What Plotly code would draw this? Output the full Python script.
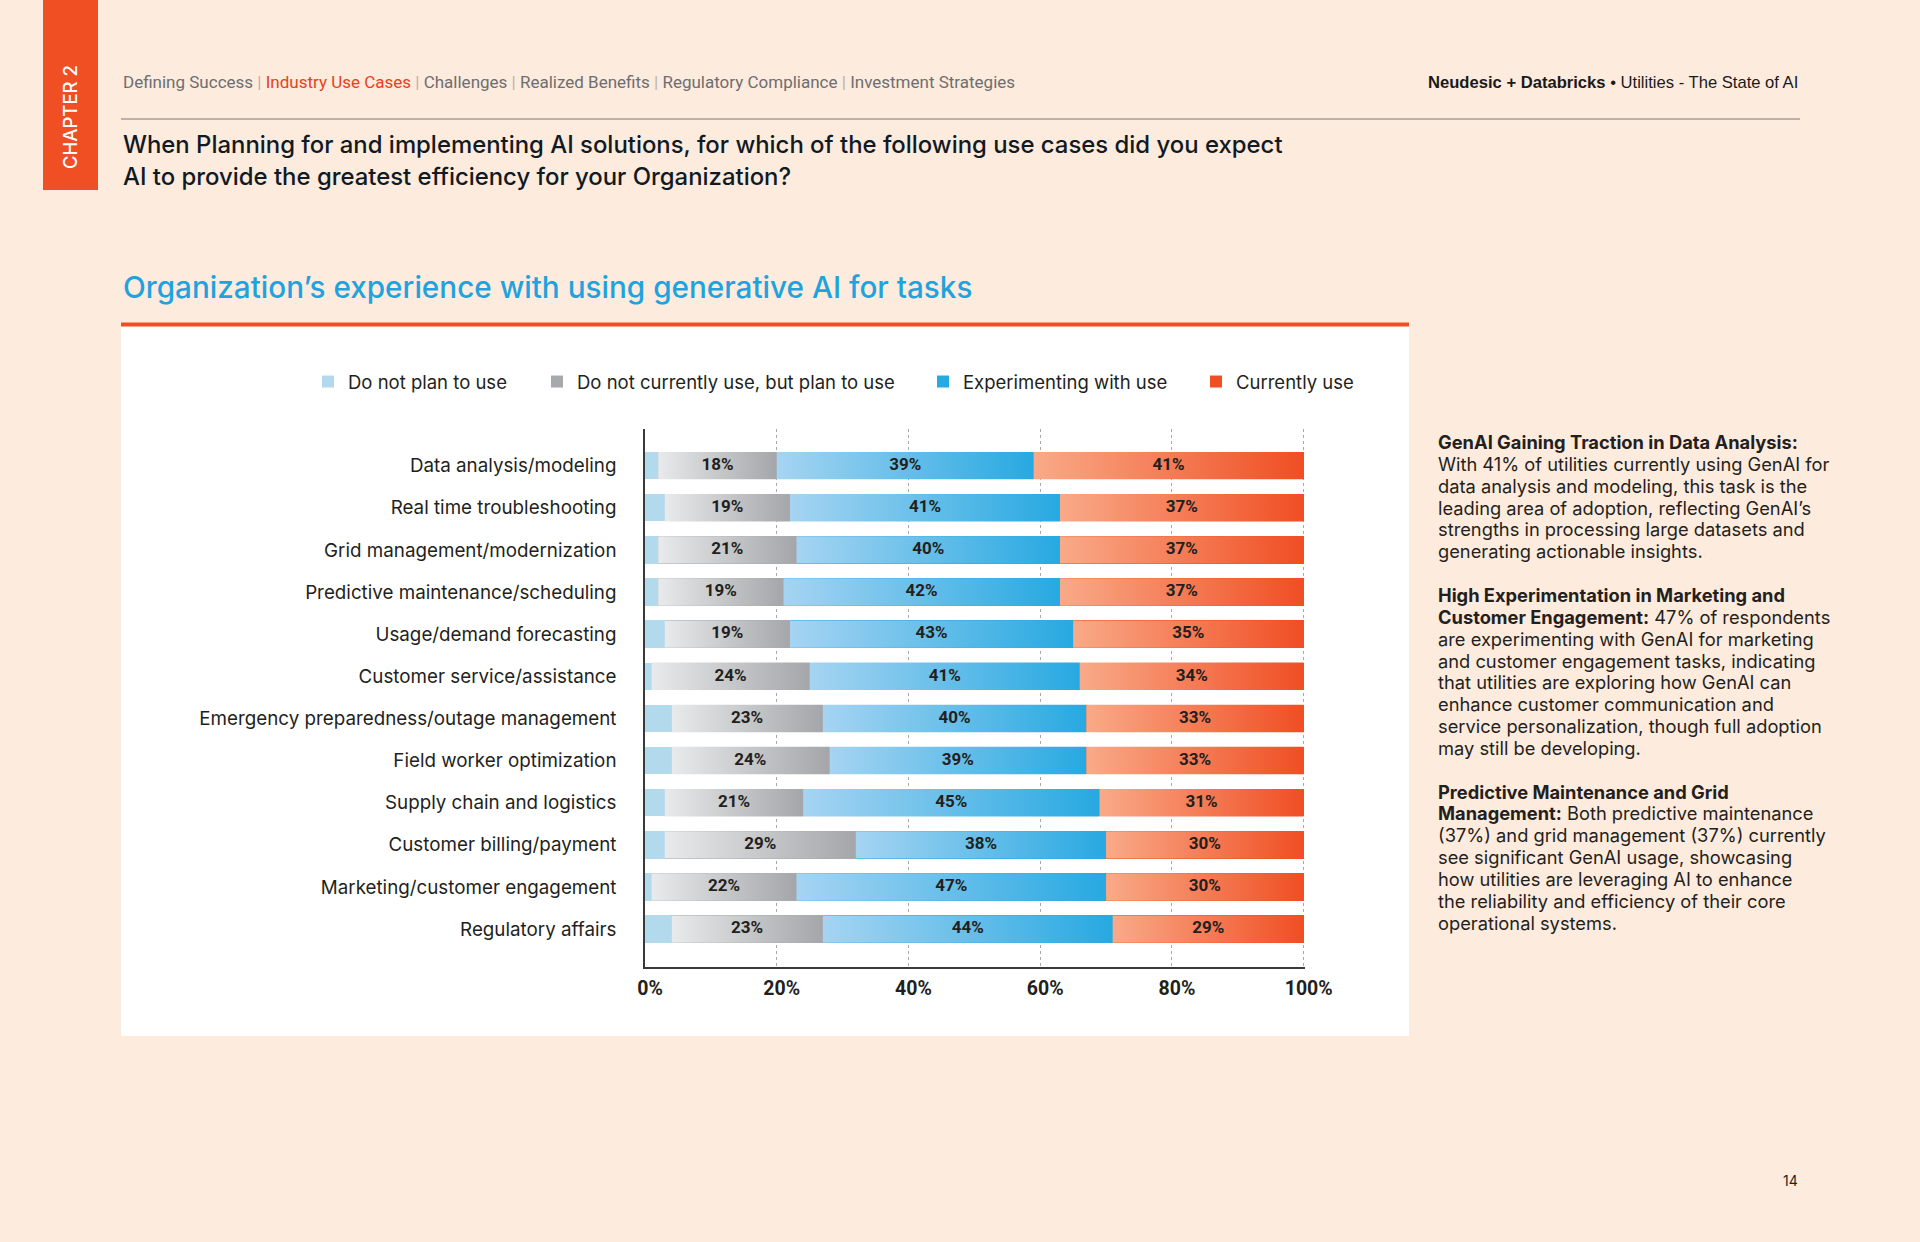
import plotly.graph_objects as go

# ---------------- data ----------------
categories = [
    "Data analysis/modeling",
    "Real time troubleshooting",
    "Grid management/modernization",
    "Predictive maintenance/scheduling",
    "Usage/demand forecasting",
    "Customer service/assistance",
    "Emergency preparedness/outage management",
    "Field worker optimization",
    "Supply chain and logistics",
    "Customer billing/payment",
    "Marketing/customer engagement",
    "Regulatory affairs",
]
do_not_plan = [2, 3, 2, 2, 3, 1, 4, 4, 3, 3, 1, 4]
plan_to_use = [18, 19, 21, 19, 19, 24, 23, 24, 21, 29, 22, 23]
experimenting = [39, 41, 40, 42, 43, 41, 40, 39, 45, 38, 47, 44]
currently_use = [41, 37, 37, 37, 35, 34, 33, 33, 31, 30, 30, 29]

series_names = ["Do not plan to use", "Do not currently use, but plan to use",
                "Experimenting with use", "Currently use"]
x_ticks = [0, 20, 40, 60, 80, 100]
x_tick_labels = ["0%", "20%", "40%", "60%", "80%", "100%"]

# ---------------- styling ----------------
BG = "#FDEBDD"
ORANGE = "#F04E23"
legend_colors = ["#B3D9EC", "#A7A9AC", "#27AAE1", "#F04E23"]
gradients = [None,
             ["#E9EAEB", "#A4A6A9"],
             ["#A6D4F2", "#27A9E1"],
             ["#F9AA88", "#F04E23"]]
TXT = "#231F20"
LABEL_FONT = "Inter, Noto Sans, sans-serif"
NARROW = "Liberation Sans Narrow, Roboto, Liberation Sans, sans-serif"
ARIAL = "Liberation Sans, Arial, sans-serif"

W, H = 1920, 1242
PL, PR, PT, PB = 645, 1305, 429, 967


def px(x):
    return (x - PL) / (PR - PL)


def py(y):
    return (PB - y) / (PB - PT)


n = len(categories)
ypos = list(range(n - 1, -1, -1))
BAR_W = 0.65
series = [do_not_plan, plan_to_use, experimenting, currently_use]

fig = go.Figure()

# stacked bars (data carriers + legend)
legend_keys = ["legend", "legend2", "legend3", "legend4"]
for k, (name, vals) in enumerate(zip(series_names, series)):
    fig.add_trace(go.Bar(
        y=ypos, x=vals, orientation="h", name=name, width=BAR_W,
        marker=dict(color=legend_colors[k], line=dict(width=0)),
        legend=legend_keys[k], hoverinfo="x+name",
    ))

# gradient overlays computed from the same data
bases = [[0] * n]
for k in range(1, 4):
    bases.append([b + v for b, v in zip(bases[k - 1], series[k - 1])])

for k in range(1, 4):
    c0, c1 = gradients[k]
    for i in range(n):
        x0 = bases[k][i]
        x1 = x0 + series[k][i]
        yc = ypos[i]
        fig.add_trace(go.Scatter(
            x=[x0, x1, x1, x0, x0],
            y=[yc - BAR_W / 2, yc - BAR_W / 2, yc + BAR_W / 2, yc + BAR_W / 2, yc - BAR_W / 2],
            mode="lines", line=dict(width=0), fill="toself",
            fillgradient=dict(type="horizontal", colorscale=[[0, c0], [1, c1]]),
            showlegend=False, hoverinfo="skip",
        ))

# value labels
for k in range(1, 4):
    fig.add_trace(go.Scatter(
        x=[b + v / 2 for b, v in zip(bases[k], series[k])],
        y=ypos, mode="text",
        text=[f"{v}%" for v in series[k]],
        textfont=dict(family=NARROW, size=17, color=TXT, weight=700),
        showlegend=False, hoverinfo="skip", cliponaxis=False,
    ))

# ---------------- layout ----------------
legend_square_centers = [328, 557, 943, 1216]
legends = {}
for k, key in enumerate(legend_keys):
    legends[key] = dict(
        x=px(legend_square_centers[k] - 20), xanchor="left",
        y=py(382), yanchor="middle", orientation="h",
        bgcolor="rgba(0,0,0,0)", borderwidth=0,
        font=dict(family=LABEL_FONT, size=18.5, color=TXT),
        itemclick=False, itemdoubleclick=False,
    )

shapes = [
    dict(type="rect", xref="paper", yref="paper", x0=px(121), x1=px(1409),
         y0=py(1036), y1=py(326), fillcolor="white", line=dict(width=0), layer="below"),
    dict(type="line", xref="paper", yref="paper", x0=px(121), x1=px(1409),
         y0=py(324.5), y1=py(324.5), line=dict(color=ORANGE, width=4)),
    dict(type="rect", xref="paper", yref="paper", x0=px(43), x1=px(98),
         y0=py(190), y1=py(-2), fillcolor=ORANGE, line=dict(width=0), layer="below"),
    dict(type="line", xref="paper", yref="paper", x0=px(121), x1=px(1800),
         y0=py(119), y1=py(119), line=dict(color="#A59E96", width=1.5)),
]

sep = "<span style='color:#B8B2AC'> | </span>"
nav = ("Defining Success" + sep + "<span style='color:#E8401C'>Industry Use Cases</span>" + sep +
       "Challenges" + sep + "Realized Benefits" + sep + "Regulatory Compliance" + sep +
       "Investment Strategies")

side_lines = [
    "<b>GenAI Gaining Traction in Data Analysis:</b>",
    "With 41% of utilities currently using GenAI for",
    "data analysis and modeling, this task is the",
    "leading area of adoption, reflecting GenAI’s",
    "strengths in processing large datasets and",
    "generating actionable insights.",
    "",
    "<b>High Experimentation in Marketing and</b>",
    "<b>Customer Engagement:</b> 47% of respondents",
    "are experimenting with GenAI for marketing",
    "and customer engagement tasks, indicating",
    "that utilities are exploring how GenAI can",
    "enhance customer communication and",
    "service personalization, though full adoption",
    "may still be developing.",
    "",
    "<b>Predictive Maintenance and Grid</b>",
    "<b>Management:</b> Both predictive maintenance",
    "(37%) and grid management (37%) currently",
    "see significant GenAI usage, showcasing",
    "how utilities are leveraging AI to enhance",
    "the reliability and efficiency of their core",
    "operational systems.",
]

annotations = [
    dict(text="CHAPTER 2", x=px(70), y=py(117), textangle=-90, xanchor="center",
         font=dict(family=LABEL_FONT, size=18.5, color="white", weight=500)),
    dict(text=nav, x=px(121), y=py(82), xanchor="left",
         font=dict(family=NARROW, size=17, color="#6D6E71")),
    dict(text="<b>Neudesic + Databricks</b> • Utilities - The State of AI", x=px(1800), y=py(82),
         xanchor="right", font=dict(family=ARIAL, size=16.6, color="#1A1A1A")),
    dict(text="When Planning for and implementing AI solutions, for which of the following use cases did you expect",
         x=px(121), y=py(144.5), xanchor="left",
         font=dict(family=LABEL_FONT, size=23.9, color="#101A24", weight=500)),
    dict(text="AI to provide the greatest efficiency for your Organization?",
         x=px(121), y=py(176.3), xanchor="left",
         font=dict(family=LABEL_FONT, size=23.9, color="#101A24", weight=500)),
    dict(text="Organization’s experience with using generative AI for tasks",
         x=px(121), y=py(286.5), xanchor="left",
         font=dict(family=LABEL_FONT, size=29.7, color="#1FA3DF", weight=500)),
    dict(text="14", x=px(1790), y=py(1180), xanchor="center",
         font=dict(family=LABEL_FONT, size=14, color=TXT)),
]
for i, line in enumerate(side_lines):
    if line:
        annotations.append(dict(
            text=line, x=px(1436), y=py(442 + 21.85 * i), xanchor="left",
            font=dict(family=LABEL_FONT, size=18.3, color=TXT)))

for a in annotations:
    a.setdefault("xref", "paper")
    a.setdefault("yref", "paper")
    a.setdefault("showarrow", False)
    a.setdefault("yanchor", "middle")

fig.update_layout(
    width=W, height=H, autosize=False,
    margin=dict(l=PL, r=W - PR, t=PT, b=H - PB, pad=0),
    paper_bgcolor=BG, plot_bgcolor="white",
    barmode="stack", bargap=0.35,
    showlegend=True,
    shapes=shapes, annotations=annotations,
    xaxis=dict(
        range=[0, 100.2], tickmode="array", tickvals=x_ticks, ticktext=x_tick_labels,
        showgrid=True, gridcolor="#A8A8A8", griddash="dot", gridwidth=1.2,
        showline=True, linecolor="#3A3A3A", linewidth=1.5, zeroline=False,
        ticks="", ticklabelstandoff=3, ticklabelshift=5,
        tickfont=dict(family=NARROW, size=19.5, color=TXT, weight=700),
        fixedrange=True,
    ),
    yaxis=dict(
        range=[-0.9, 11.87], tickvals=ypos, ticktext=categories,
        showgrid=False, showline=True, linecolor="#3A3A3A", linewidth=1.5, zeroline=False,
        ticks="", ticklabelstandoff=23,
        tickfont=dict(family=LABEL_FONT, size=18.8, color=TXT),
        fixedrange=True,
    ),
    **legends,
)

fig.write_html("out.html", config={"displayModeBar": False},
               post_script="document.body.style.margin='0';document.body.style.overflow='hidden';")
